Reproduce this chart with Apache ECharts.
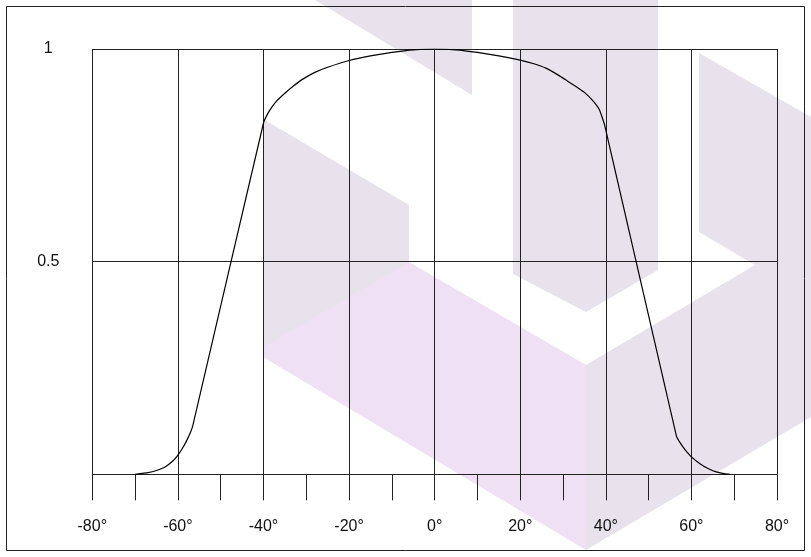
<!DOCTYPE html>
<html>
<head>
<meta charset="utf-8">
<script src="https://cdn.jsdelivr.net/npm/echarts@6/dist/echarts.min.js"></script>
<style>
html,body{margin:0;padding:0;background:#fff;}
#chart{width:811px;height:557px;}
</style>
</head>
<body>
<div id="chart"></div>
<script>
// angle (degrees) and relative response values
var angles = [-70,-67,-65,-63,-61,-60,-59,-58,-57,-56.5,-40,-39,-38,-37,-35,-33,-31,-28,-25,-20,-15,-10,-5,0,
              5,10,15,20,23,26,29,31,33,35,37,38.5,39.7,56.5,57.5,58.5,60,62,64,66,68,69];
var values = [0,0.004,0.009,0.017,0.033,0.045,0.060,0.078,0.100,0.115,0.826,0.848,0.864,0.877,0.896,0.913,0.928,0.945,0.957,0.973,0.984,0.992,0.998,1.0,
              0.998,0.992,0.984,0.974,0.966,0.955,0.938,0.925,0.912,0.898,0.878,0.857,0.822,0.090,0.072,0.058,0.041,0.025,0.013,0.005,0.001,0];
var xTickLabels = ['-80°','-60°','-40°','-20°','0°','20°','40°','60°','80°'];
var yTickValues = [0.5, 1];

var points = angles.map(function(a, i){ return [a, values[i]]; });

var chart = echarts.init(document.getElementById('chart'), null, {renderer:'canvas'});
var grey = '#e7e2eb', pink = '#efe1f3';
var font = "'Liberation Sans', Arial, Helvetica, sans-serif";
chart.setOption({
  animation:false,
  backgroundColor:'#ffffff',
  graphic:[
    {type:'polygon', z:-10, silent:true, shape:{points:[[315,0],[472,0],[472,95]]}, style:{fill:grey}},
    {type:'polygon', z:-10, silent:true, shape:{points:[[513,0],[658,0],[658,270],[586,312],[513,274]]}, style:{fill:grey}},
    {type:'polygon', z:-10, silent:true, shape:{points:[[263,177],[586,365],[586,550],[263,357]]}, style:{fill:pink}},
    {type:'polygon', z:-9, silent:true, shape:{points:[[263,119],[409,205],[409,262],[263,347]]}, style:{fill:grey}},
    {type:'polygon', z:-10, silent:true, shape:{points:[[699,53],[811,117],[811,417],[586,550],[586,365],[755,265],[699,232]]}, style:{fill:grey}},
    {type:'rect', z:10, silent:true, shape:{x:6.5, y:6.5, width:798, height:544}, style:{fill:'none', stroke:'#222', lineWidth:1}}
  ],
  grid:{left:92.3, right:34, top:49, bottom:82.7, containLabel:false},
  xAxis:{
    type:'value', min:-80, max:80, interval:20,
    axisLine:{show:true, onZero:false, lineStyle:{color:'#222', width:1}},
    axisTick:{show:true, length:26, lineStyle:{color:'#222', width:1}},
    minorTick:{show:true, splitNumber:2, length:26, lineStyle:{color:'#222', width:1}},
    splitLine:{show:true, lineStyle:{color:'#222', width:1}},
    axisLabel:{margin:44, color:'#111', fontSize:16, fontFamily:font,
      formatter:function(v){ return xTickLabels[Math.round((v+80)/20)]; }}
  },
  yAxis:{
    type:'value', min:0, max:1, interval:0.5,
    axisLine:{show:false},
    axisTick:{show:true, length:25, customValues:yTickValues, lineStyle:{color:'#222', width:1}},
    splitLine:{show:true, lineStyle:{color:'#222', width:1}},
    axisLabel:{customValues:yTickValues, margin:44, align:'center', color:'#111', fontSize:16, fontFamily:font}
  },
  series:[{
    type:'line', data:points, smooth:0.1, showSymbol:false, symbol:'none',
    lineStyle:{color:'#000', width:1.2}, z:5
  }]
});
</script>
</body>
</html>
